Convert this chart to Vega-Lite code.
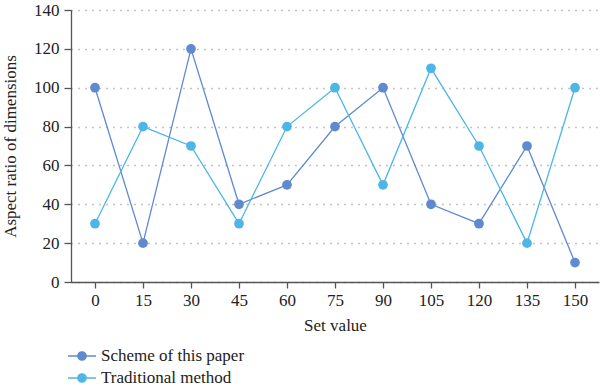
{
  "$schema": "https://vega.github.io/schema/vega-lite/v6.json",
  "width": 528,
  "height": 272,
  "autosize": {"type": "none"},
  "padding": {"left": 71, "top": 10, "right": 1, "bottom": 109},
  "background": "white",
  "data": {
    "values": [
      {"x": 0, "y": 100, "s": "Scheme of this paper"},
      {"x": 15, "y": 20, "s": "Scheme of this paper"},
      {"x": 30, "y": 120, "s": "Scheme of this paper"},
      {"x": 45, "y": 40, "s": "Scheme of this paper"},
      {"x": 60, "y": 50, "s": "Scheme of this paper"},
      {"x": 75, "y": 80, "s": "Scheme of this paper"},
      {"x": 90, "y": 100, "s": "Scheme of this paper"},
      {"x": 105, "y": 40, "s": "Scheme of this paper"},
      {"x": 120, "y": 30, "s": "Scheme of this paper"},
      {"x": 135, "y": 70, "s": "Scheme of this paper"},
      {"x": 150, "y": 10, "s": "Scheme of this paper"},
      {"x": 0, "y": 30, "s": "Traditional method"},
      {"x": 15, "y": 80, "s": "Traditional method"},
      {"x": 30, "y": 70, "s": "Traditional method"},
      {"x": 45, "y": 30, "s": "Traditional method"},
      {"x": 60, "y": 80, "s": "Traditional method"},
      {"x": 75, "y": 100, "s": "Traditional method"},
      {"x": 90, "y": 50, "s": "Traditional method"},
      {"x": 105, "y": 110, "s": "Traditional method"},
      {"x": 120, "y": 70, "s": "Traditional method"},
      {"x": 135, "y": 20, "s": "Traditional method"},
      {"x": 150, "y": 100, "s": "Traditional method"}
    ]
  },
  "mark": {"type": "line", "strokeWidth": 1.3, "point": {"filled": true, "size": 95, "opacity": 1}},
  "encoding": {
    "x": {
      "field": "x", "type": "ordinal",
      "scale": {"type": "point", "padding": 0.5},
      "axis": {"title": "Set value", "labelAngle": 0, "grid": false, "titlePadding": 9, "tickSize": 6}
    },
    "y": {
      "field": "y", "type": "quantitative",
      "scale": {"domain": [0, 140], "nice": false},
      "axis": {"title": "Aspect ratio of dimensions", "values": [0, 20, 40, 60, 80, 100, 120, 140], "grid": true, "titlePadding": 14, "tickSize": 7, "labelPadding": 5}
    },
    "color": {
      "field": "s", "type": "nominal",
      "scale": {"domain": ["Scheme of this paper", "Traditional method"], "range": ["#5F8ACF", "#4DB6E6"]},
      "legend": {
        "title": null,
        "orient": "none",
        "legendX": 0,
        "legendY": 335,
        "symbolType": "M-1.4,0H1.4M-0.42,0A0.42,0.42 0 1,1 0.42,0A0.42,0.42 0 1,1 -0.42,0",
        "symbolSize": 400,
        "symbolStrokeWidth": 1.3,
        "labelFontSize": 17,
        "labelFont": "Liberation Serif",
        "labelColor": "#222",
        "rowPadding": 3,
        "labelOffset": 8
      }
    }
  },
  "config": {
    "view": {"stroke": null},
    "font": "Liberation Serif",
    "axis": {
      "labelFont": "Liberation Serif",
      "titleFont": "Liberation Serif",
      "labelFontSize": 17,
      "titleFontSize": 17,
      "titleFontWeight": "normal",
      "labelColor": "#222",
      "titleColor": "#222",
      "domainColor": "#555",
      "tickColor": "#555",
      "domainWidth": 1.3,
      "tickWidth": 1.3,
      "labelPadding": 4,
      "gridColor": "#888",
      "gridDash": [1, 6],
      "gridWidth": 1.3
    }
  }
}
